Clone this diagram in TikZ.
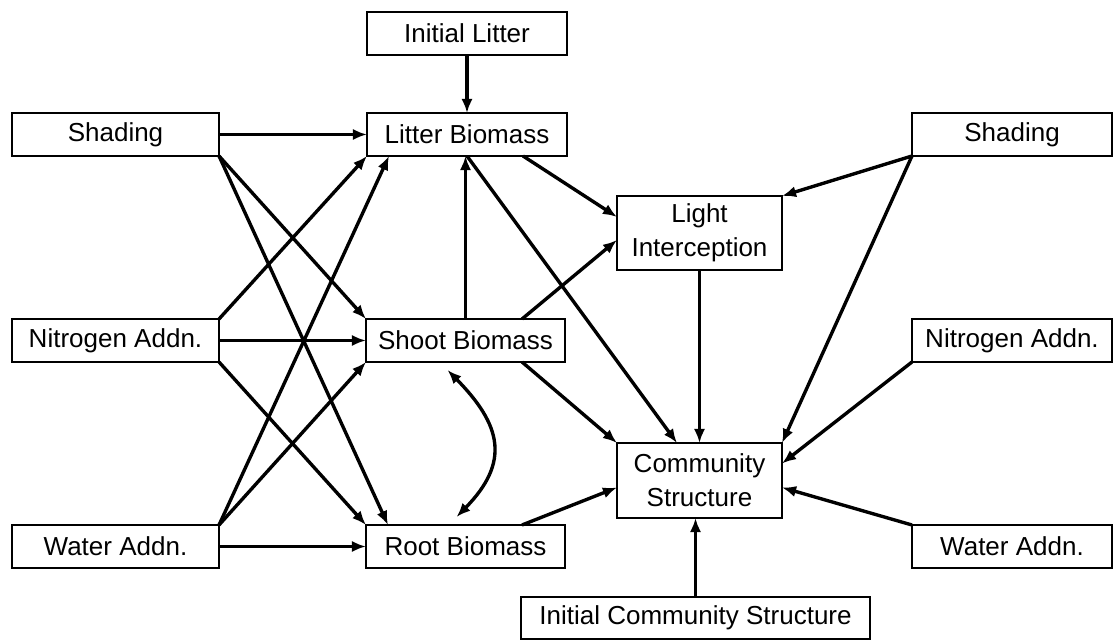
\documentclass[tikz,border=0pt]{standalone}
\usepackage{fontspec}
\setmainfont{Liberation Sans}
\usetikzlibrary{arrows.meta}

\begin{document}
\begin{tikzpicture}[x=0.025cm,y=-0.025cm,
    box/.style={draw,line width=1.3pt,inner sep=0pt,outer sep=0pt,align=center,
      minimum height=1.075cm,font=\fontsize{18.5}{24}\selectfont},
    arr/.style={->,line width=2.4pt},
    >={Latex[length=10pt,width=8pt]}]
  \useasboundingbox (0,0) rectangle (1114,642);

  % treatments, left
  \node[box,minimum width=5.175cm] (shadL) at (115.5,134.5) {Shading};
  \node[box,minimum width=5.175cm] (nitL) at (115.5,340.5) {Nitrogen Addn.};
  \node[box,minimum width=5.175cm] (watL) at (115.5,546.5) {Water Addn.};

  % biomass
  \node[box,minimum width=5cm] (initLit) at (467,33.5) {Initial Litter};
  \node[box,minimum width=5cm] (litter) at (467,134.5) {Litter Biomass};
  \node[box,minimum width=4.975cm] (shoot) at (465.5,340.5) {Shoot Biomass};
  \node[box,minimum width=4.975cm] (root) at (465.5,546.5) {Root Biomass};

  % light and community
  \node[box,minimum width=4.125cm,minimum height=1.85cm] (light) at (699.5,233) {Light\\Interception};
  \node[box,minimum width=4.125cm,minimum height=1.875cm] (comm) at (699.5,480.5) {Community\\Structure};
  \node[box,minimum width=8.725cm,minimum height=1.05cm] (initC) at (695.5,618) {Initial Community Structure};

  % treatments, right
  \node[box,minimum width=5cm] (shadR) at (1012,134.5) {Shading};
  \node[box,minimum width=5cm] (nitR) at (1012,340.5) {Nitrogen Addn.};
  \node[box,minimum width=5cm] (watR) at (1012,546.5) {Water Addn.};

  % left side arrows
  \draw[arr] (shadL.east) -- (litter.west);
  \draw[arr] (shadL.south east) -- (shoot.north west);
  \draw[arr] (shadL.south east) -- ([shift={(22,0)}]root.north west);
  \draw[arr] (nitL.north east) -- (litter.south west);
  \draw[arr] (nitL.east) -- (shoot.west);
  \draw[arr] (nitL.south east) -- (root.north west);
  \draw[arr] (watL.north east) -- ([shift={(22,0)}]litter.south west);
  \draw[arr] (watL.north east) -- (shoot.south west);
  \draw[arr] (watL.east) -- (root.west);

  % middle
  \draw[arr] (initLit.south) -- (litter.north);
  \draw[arr] (shoot.north) -- (shoot.north |- litter.south);
  \draw[arr,<->] ([shift={(-18,8)}]shoot.south) .. controls +(54,55) and +(54,-55) .. ([shift={(-9,-8)}]root.north);
  \draw[arr] ([shift={(-44,0)}]litter.south east) -- ([shift={(0,-16)}]light.west);
  \draw[arr] ([shift={(-43,0)}]shoot.north east) -- ([shift={(0,7)}]light.west);
  \draw[arr] (litter.south) -- ([shift={(60,0)}]comm.north west);
  \draw[arr] ([shift={(-43,0)}]shoot.south east) -- (comm.north west);
  \draw[arr] ([shift={(-43,0)}]root.north east) -- ([shift={(0,7)}]comm.west);
  \draw[arr] (light.south) -- (comm.north);
  \draw[arr] (initC.north) -- (initC.north |- comm.south);

  % right side arrows
  \draw[arr] (shadR.south west) -- (light.north east);
  \draw[arr] (shadR.south west) -- (comm.north east);
  \draw[arr] (nitR.south west) -- ([shift={(0,-17)}]comm.east);
  \draw[arr] (watR.north west) -- ([shift={(0,7)}]comm.east);
\end{tikzpicture}
\end{document}
